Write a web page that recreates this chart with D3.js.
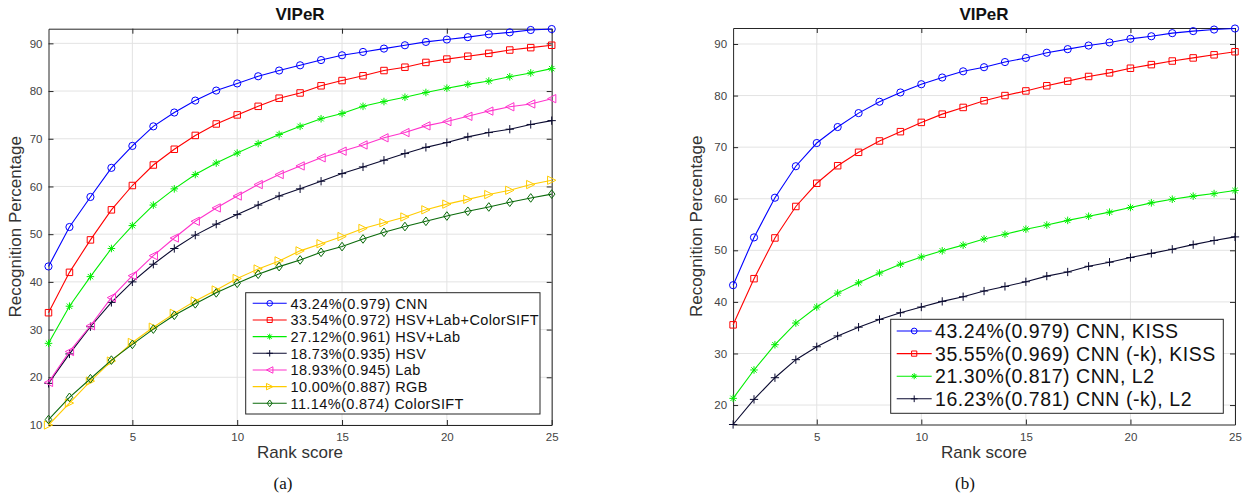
<!DOCTYPE html>
<html><head><meta charset="utf-8">
<script src="https://cdn.jsdelivr.net/npm/d3@7/dist/d3.min.js"></script>
<style>
body{margin:0;background:#fff;}
svg{display:block;}
text{font-family:"Liberation Sans",Arial,sans-serif;}
</style></head>
<body>
<svg id="c" width="1246" height="498"></svg>
<script>
// ---- data ----
const ranks = d3.range(1, 26);
const xTicks = [5, 10, 15, 20, 25];
const yTicksA = [10, 20, 30, 40, 50, 60, 70, 80, 90];
const yTicksB = [20, 30, 40, 50, 60, 70, 80, 90];

// (a) feature comparison
const cnnA = [43.24,51.5,57.8,63.9,68.5,72.6,75.5,78.0,80.1,81.6,83.1,84.3,85.4,86.5,87.5,88.2,88.9,89.6,90.3,90.8,91.3,91.9,92.3,92.8,93.0];
const hlcA = [33.54,42.0,48.8,55.1,60.2,64.5,67.8,70.7,73.1,75.0,76.8,78.5,79.6,81.1,82.2,83.2,84.3,85.0,86.0,86.7,87.3,87.9,88.6,89.1,89.6];
const hlA  = [27.12,34.9,41.1,47.0,51.8,56.1,59.5,62.5,64.9,67.0,69.0,70.9,72.6,74.2,75.3,76.8,77.8,78.7,79.7,80.6,81.4,82.1,83.0,83.8,84.7];
const hsvA = [18.73,24.9,30.6,35.7,40.0,43.7,47.0,49.8,52.1,54.1,56.1,58.0,59.5,61.1,62.7,64.1,65.5,66.9,68.2,69.2,70.4,71.3,72.0,73.0,73.8];
const labA = [18.93,25.4,30.8,36.7,41.3,45.5,49.2,52.7,55.5,58.0,60.4,62.5,64.3,66.0,67.4,68.7,70.2,71.3,72.7,73.6,74.7,75.8,76.7,77.3,78.4];
const rgbA = [10.00,14.6,19.2,23.4,27.3,30.5,33.4,36.0,38.3,40.7,42.7,44.4,46.5,48.0,49.5,51.2,52.4,53.6,55.1,56.3,57.3,58.3,59.2,60.4,61.3];
const csA  = [11.14,15.8,19.7,23.6,26.9,30.1,33.0,35.4,37.7,39.7,41.6,43.2,44.6,46.2,47.4,49.0,50.4,51.6,52.7,53.8,54.8,55.7,56.7,57.6,58.4];
const labelsA = ["43.24%(0.979) CNN","33.54%(0.972) HSV+Lab+ColorSIFT","27.12%(0.961) HSV+Lab","18.73%(0.935) HSV","18.93%(0.945) Lab","10.00%(0.887) RGB","11.14%(0.874) ColorSIFT"];

// (b) CNN variants
const cnnB  = [43.24,52.5,60.2,66.3,70.8,73.9,76.6,78.8,80.6,82.2,83.5,84.7,85.5,86.5,87.3,88.3,89.0,89.7,90.3,91.0,91.5,92.1,92.5,92.8,93.0];
const cnnkB = [35.55,44.5,52.4,58.5,63.0,66.4,69.0,71.2,73.0,74.8,76.4,77.7,79.0,80.0,80.9,81.9,82.8,83.7,84.4,85.3,86.0,86.7,87.3,87.9,88.5];
const l2B   = [21.30,26.8,31.7,35.9,39.0,41.7,43.7,45.6,47.3,48.7,49.9,51.0,52.2,53.1,54.1,54.9,55.8,56.6,57.4,58.3,59.2,59.9,60.5,61.0,61.6];
const l2kB  = [16.23,21.1,25.3,28.8,31.3,33.4,35.1,36.6,37.9,39.0,40.1,41.0,42.1,43.0,43.9,45.0,45.8,46.9,47.7,48.6,49.4,50.2,51.1,51.9,52.6];
const labelsB = ["43.24%(0.979) CNN, KISS","35.55%(0.969) CNN (-k), KISS","21.30%(0.817) CNN, L2","16.23%(0.781) CNN (-k), L2"];

// ---- styling ----
const svg = d3.select("#c");

function marker(g, type, x, y, s, color) {
  const p = g.append("path").attr("fill", "none").attr("stroke", color).attr("stroke-width", 1);
  let d = "";
  if (type === "o") {
    d = `M${x - s},${y}a${s},${s} 0 1,0 ${2*s},0a${s},${s} 0 1,0 ${-2*s},0`;
  } else if (type === "s") {
    const h = s * 0.9;
    d = `M${x-h},${y-h}H${x+h}V${y+h}H${x-h}Z`;
  } else if (type === "*") {
    const a = s * 1.05, b = a * 0.7071;
    d = `M${x-a},${y}H${x+a}M${x},${y-a}V${y+a}M${x-b},${y-b}L${x+b},${y+b}M${x-b},${y+b}L${x+b},${y-b}`;
  } else if (type === "+") {
    const a = s * 1.15;
    d = `M${x-a},${y}H${x+a}M${x},${y-a}V${y+a}`;
  } else if (type === "<") {
    const a = s * 1.15;
    d = `M${x-a},${y}L${x+a},${y-a}L${x+a},${y+a}Z`;
  } else if (type === ">") {
    const a = s * 1.15;
    d = `M${x+a},${y}L${x-a},${y-a}L${x-a},${y+a}Z`;
  } else if (type === "d") {
    const a = s * 1.2, b = s * 0.9;
    d = `M${x},${y-a}L${x+b},${y}L${x},${y+a}L${x-b},${y}Z`;
  }
  p.attr("d", d);
}

function drawChart(cfg) {
  const x = d3.scaleLinear().domain([1, 25]).range([cfg.left, cfg.right]);
  const y = d3.scaleLinear().domain(cfg.yDomain).range([cfg.bottom, cfg.top]);
  const g = svg.append("g");

  // grid
  g.append("g").selectAll("line").data(xTicks).join("line")
    .attr("x1", d => x(d)).attr("x2", d => x(d))
    .attr("y1", cfg.top).attr("y2", cfg.bottom)
    .attr("stroke", "#e3e3e3").attr("stroke-width", 1);
  g.append("g").selectAll("line").data(cfg.yTicks).join("line")
    .attr("y1", d => y(d)).attr("y2", d => y(d))
    .attr("x1", cfg.left).attr("x2", cfg.right)
    .attr("stroke", "#e3e3e3").attr("stroke-width", 1);

  // axes (inward ticks on all sides)
  const tk = 5;
  const ax = g.append("g").attr("transform", `translate(0,${cfg.bottom})`)
    .call(d3.axisBottom(x).tickValues(xTicks).tickSizeInner(-tk).tickSizeOuter(0).tickPadding(8));
  const axT = g.append("g").attr("transform", `translate(0,${cfg.top})`)
    .call(d3.axisTop(x).tickValues(xTicks).tickSizeInner(-tk).tickSizeOuter(0).tickFormat(""));
  const ay = g.append("g").attr("transform", `translate(${cfg.left},0)`)
    .call(d3.axisLeft(y).tickValues(cfg.yTicks).tickSizeInner(-tk).tickSizeOuter(0).tickPadding(6));
  const ayR = g.append("g").attr("transform", `translate(${cfg.right},0)`)
    .call(d3.axisRight(y).tickValues(cfg.yTicks).tickSizeInner(-tk).tickSizeOuter(0).tickFormat(""));
  [ax, axT, ay, ayR].forEach(a => {
    a.select(".domain").attr("stroke", "#262626").attr("stroke-width", 1);
    a.selectAll(".tick line").attr("stroke", "#262626");
    a.selectAll(".tick text").attr("fill", "#444").style("font-size", "11.5px")
      .style("font-family", '"Liberation Sans",Arial,sans-serif');
  });

  // series
  const line = d3.line().x((d, i) => x(ranks[i])).y(d => y(d));
  cfg.series.forEach(s => {
    g.append("path").datum(s.values).attr("d", line)
      .attr("fill", "none").attr("stroke", s.color).attr("stroke-width", 1.1);
    s.values.forEach((v, i) => marker(g, s.mark, x(ranks[i]), y(v), s.size || 3.6, s.color));
  });

  // title & labels
  g.append("text").attr("x", (cfg.left + cfg.right) / 2).attr("y", 20)
    .attr("text-anchor", "middle").style("font-size", "17px").style("font-weight", "bold")
    .attr("fill", "#111").text("VIPeR");
  g.append("text").attr("x", (cfg.left + cfg.right) / 2).attr("y", 458)
    .attr("text-anchor", "middle").style("font-size", "17px").attr("fill", "#333").text("Rank score");
  g.append("text").attr("transform", `translate(${cfg.ylabX},${(cfg.top + cfg.bottom) / 2}) rotate(-90)`)
    .attr("text-anchor", "middle").style("font-size", "17px").attr("fill", "#333").text("Recognition Percentage");
  g.append("text").attr("x", cfg.capX).attr("y", 489).attr("text-anchor", "middle")
    .style("font-family", '"Liberation Serif","Times New Roman",serif').style("font-size", "17px")
    .attr("fill", "#111").text(cfg.caption);

  // legend
  const L = cfg.legend;
  g.append("rect").attr("x", L.x).attr("y", L.y).attr("width", L.w).attr("height", L.h)
    .attr("fill", "#fff").attr("stroke", "#262626").attr("stroke-width", 1);
  cfg.series.forEach((s, i) => {
    const cy = L.row0 + i * L.dy;
    g.append("line").attr("x1", L.lx1).attr("x2", L.lx2).attr("y1", cy).attr("y2", cy)
      .attr("stroke", s.color).attr("stroke-width", 1.1);
    marker(g, s.mark, (L.lx1 + L.lx2) / 2, cy, L.ms, s.color);
    g.append("text").attr("x", L.tx).attr("y", cy).attr("dy", "0.36em")
      .style("font-size", L.fs + "px").style("letter-spacing", L.ls + "px")
      .attr("fill", "#111").text(s.label);
  });
}

drawChart({
  left: 48.5, right: 551.7, top: 28.7, bottom: 425,
  yDomain: [10, 93.07], yTicks: yTicksA, ylabX: 21, capX: 283, caption: "(a)",
  series: [
    {values: cnnA, color: "#0000ff", mark: "o", label: labelsA[0]},
    {values: hlcA, color: "#ff0000", mark: "s", label: labelsA[1]},
    {values: hlA,  color: "#00ee00", mark: "*", label: labelsA[2]},
    {values: hsvA, color: "#0a0a30", mark: "+", label: labelsA[3]},
    {values: labA, color: "#ff33cc", mark: "<", label: labelsA[4]},
    {values: rgbA, color: "#ffcc00", mark: ">", label: labelsA[5]},
    {values: csA,  color: "#0a6a0a", mark: "d", label: labelsA[6]}
  ],
  legend: {x: 245.7, y: 292.7, w: 294.3, h: 121.3, row0: 303.3, dy: 16.67, lx1: 252.7, lx2: 286.7, tx: 290.5, fs: 14.5, ls: 0.4, ms: 2.8}
});

drawChart({
  left: 733.1, right: 1235, top: 28, bottom: 424.5,
  yDomain: [16.23, 93.1], yTicks: yTicksB, ylabX: 702, capX: 965, caption: "(b)",
  series: [
    {values: cnnB,  color: "#0000ff", mark: "o", label: labelsB[0]},
    {values: cnnkB, color: "#ff0000", mark: "s", label: labelsB[1]},
    {values: l2B,   color: "#00ee00", mark: "*", label: labelsB[2]},
    {values: l2kB,  color: "#0a0a30", mark: "+", label: labelsB[3]}
  ],
  legend: {x: 890.7, y: 319.3, w: 332.6, h: 94, row0: 331, dy: 22.6, lx1: 896.7, lx2: 931.7, tx: 935, fs: 19.5, ls: 0.55, ms: 2.9}
});
</script>
</body></html>
